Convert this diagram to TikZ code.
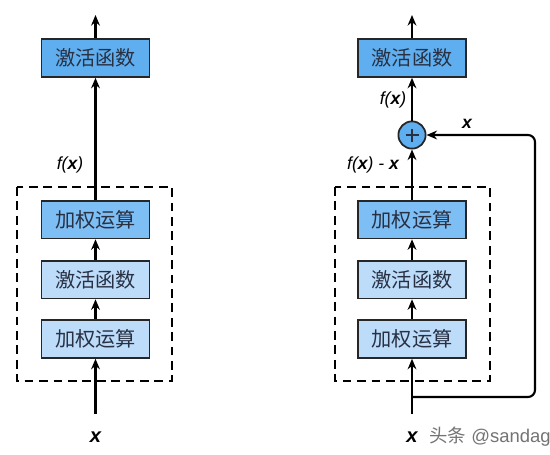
\documentclass[tikz,border=0pt]{standalone}
\usepackage{fontspec}
\setmainfont{Liberation Sans}
\newfontfamily\cjk{Noto Sans CJK SC}
\usepackage{xcolor}
\usetikzlibrary{positioning,arrows.meta,calc}
\definecolor{actblue}{RGB}{95,175,240}
\definecolor{midblue}{RGB}{125,190,245}
\definecolor{paleblue}{RGB}{188,220,250}
\definecolor{boxtext}{RGB}{40,48,66}
\tikzset{
  blk/.style={draw=black!85,line width=1pt,minimum width=61.5pt,minimum height=21.5pt,inner sep=0pt,font=\cjk\fontsize{11.5}{13}\selectfont,text=boxtext},
  topblk/.style={blk,fill=actblue},
  midblk/.style={blk,fill=midblue},
  lowblk/.style={blk,fill=paleblue},
  sumnode/.style={circle,draw=black!85,line width=1pt,fill=actblue,minimum size=15.5pt,inner sep=0pt},
  lbl/.style={font=\fontsize{10}{12}\selectfont\itshape},
  inlbl/.style={font=\fontsize{11.5}{13}\selectfont\itshape\bfseries},
  flow/.style={->,line width=1.2pt},
  dashbox/.style={line width=1pt,dash pattern=on 5pt off 3.2pt},
}
\begin{document}
\begin{tikzpicture}[x=0.02cm,y=-0.02cm,>={Stealth[length=6pt,width=5pt]}]
  \useasboundingbox (0,0) rectangle (550,454);
  % plain block
  \node[topblk] (lact) at (95.5,58) {激活函数};
  \node[midblk] (lw2) at (95.5,219.5) {加权运算};
  \node[lowblk] (la) at (95.5,279.5) {激活函数};
  \node[lowblk] (lw1) at (95.5,339) {加权运算};
  \coordinate (lin) at (95.5,414);
  \coordinate (lout) at (95.5,15);
  \node[inlbl] (lx) at (95.5,437) {x};
  \node[lbl] (lfx) at (70,165) {f(\textbf{x})};
  \draw[dashbox] (17,187) rectangle (172,381);
  \draw[flow] (lin) -- (lw1);
  \draw[flow] (lw1) -- (la);
  \draw[flow] (la) -- (lw2);
  \draw[flow] (lw2) -- (lact);
  \draw[flow] (lact) -- (lout);
  % residual block
  \node[topblk] (ract) at (412,58) {激活函数};
  \node[sumnode] (plus) at (412,135) {};
  \draw[line width=0.8pt,boxtext] ($(plus)+(-6.5,0)$) -- ($(plus)+(6.5,0)$) ($(plus)+(0,-6.5)$) -- ($(plus)+(0,6.5)$);
  \node[midblk] (rw2) at (412,219.5) {加权运算};
  \node[lowblk] (ra) at (412,279.5) {激活函数};
  \node[lowblk] (rw1) at (412,339) {加权运算};
  \coordinate (rin) at (412,414);
  \coordinate (rout) at (412,15);
  \coordinate (rsplit) at (412,397);
  \node[inlbl] (rx) at (412,437) {x};
  \node[lbl] (rfx) at (393,100) {f(\textbf{x})};
  \node[lbl] (rdiff) at (373,165) {f(\textbf{x}) - \textbf{x}};
  \node[lbl] (rskip) at (467,124) {\textbf{x}};
  \draw[dashbox] (335,187) rectangle (490,381);
  \draw[flow] (rin) -- (rw1);
  \draw[flow] (rw1) -- (ra);
  \draw[flow] (ra) -- (rw2);
  \draw[flow] (rw2) -- (plus);
  \draw[flow] (plus) -- (ract);
  \draw[flow] (ract) -- (rout);
  \draw[flow,rounded corners=4] (rsplit) -| (535,135) -- (plus);
  \node[text=black!55,font=\fontsize{10.5}{12}\selectfont] (mark) at (490,437) {{\cjk 头条} @sandag};
\end{tikzpicture}
\end{document}
